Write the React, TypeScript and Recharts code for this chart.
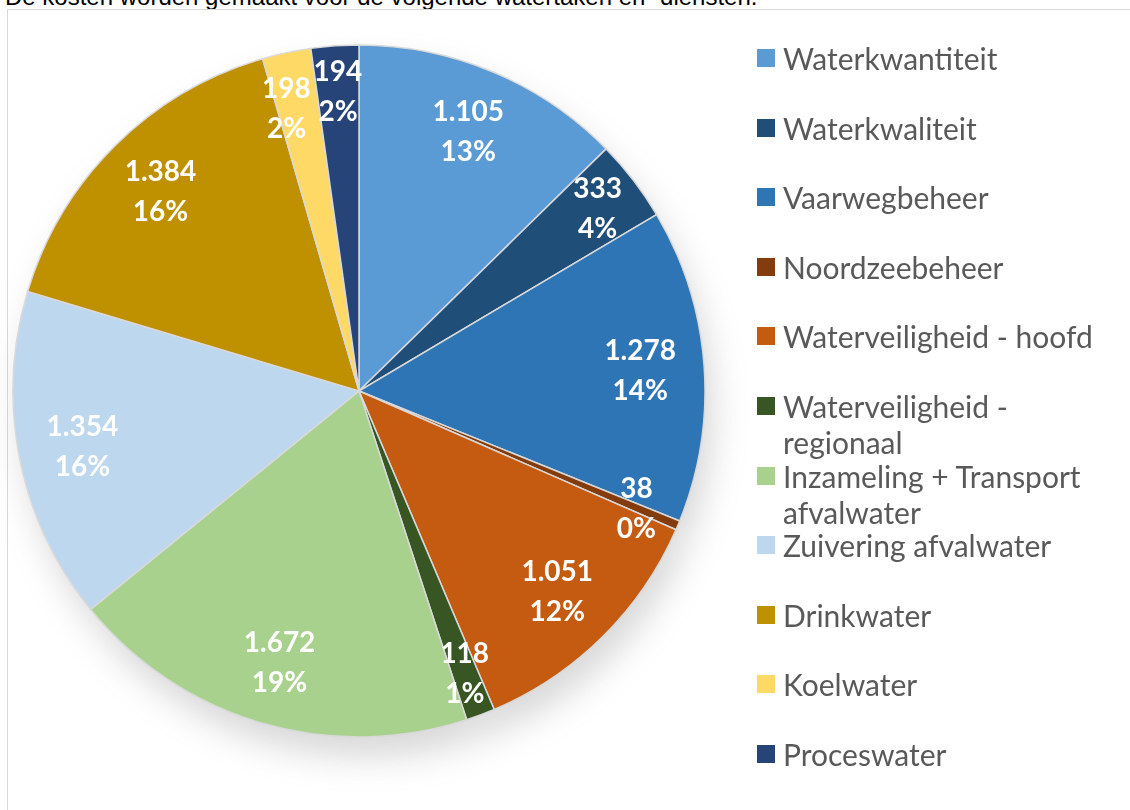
import React from "react";
import { PieChart, Pie, Cell, Legend } from "recharts";

const categories = [
  "Waterkwantiteit",
  "Waterkwaliteit",
  "Vaarwegbeheer",
  "Noordzeebeheer",
  "Waterveiligheid - hoofd",
  "Waterveiligheid - regionaal",
  "Inzameling + Transport afvalwater",
  "Zuivering afvalwater",
  "Drinkwater",
  "Koelwater",
  "Proceswater",
];

const costs = [1105, 333, 1278, 38, 1051, 118, 1672, 1354, 1384, 198, 194];

// percentages as printed on the chart labels
const percentLabels = ["13%", "4%", "14%", "0%", "12%", "1%", "19%", "16%", "16%", "2%", "2%"];

const colors = [
  "#5B9BD5",
  "#1F4E79",
  "#2E75B6",
  "#843C0C",
  "#C55A11",
  "#375623",
  "#A9D18E",
  "#BDD7EE",
  "#BF9000",
  "#FFD966",
  "#264478",
];

const chartData = categories.map((name, i) => ({ name, value: costs[i], pct: percentLabels[i] }));

const RADIAN = Math.PI / 180;
const formatNl = (v: number) => v.toLocaleString("nl-NL");

const renderLabel = (props: any) => {
  const { cx, cy, midAngle, outerRadius, value, percent, payload } = props;
  const small = percent < 0.1;
  const dirX = Math.cos(-midAngle * RADIAN);
  const dirY = Math.sin(-midAngle * RADIAN);
  // small slices a bit further out; left-of-top ones nudged away from neighbours
  const nudge = small && dirX < -0.15;
  const r = outerRadius * (small ? (nudge ? 0.835 : 0.87) : 0.815);
  const x = cx + r * dirX - (nudge ? 12 : 0);
  const y = cy + r * dirY;
  return (
    <text
      x={x}
      y={y}
      fill="#ffffff"
      textAnchor="middle"
      fontFamily="Lato, 'Open Sans', sans-serif"
      fontWeight={700}
      fontSize={28}
    >
      <tspan x={x} dy={-10}>{formatNl(value)}</tspan>
      <tspan x={x} dy={40}>{payload.pct}</tspan>
    </text>
  );
};

const renderLegend = () => (
  <div style={{ position: "absolute", left: 0, top: 0, width: 1130, height: 810 }}>
    {categories.map((name, i) => (
      <div
        key={name}
        style={{
          position: "absolute",
          left: 757,
          top: 40 + i * 69.6,
          display: "flex",
          alignItems: "flex-start",
          fontFamily: "Lato, 'Open Sans', sans-serif",
          fontSize: 30,
          lineHeight: "36px",
          color: "#595959",
        }}
      >
        <span
          style={{
            width: 18,
            height: 18,
            marginTop: 9,
            marginRight: 8,
            background: colors[i],
            flex: "none",
          }}
        />
        <span style={{ width: 320 }}>{name}</span>
      </div>
    ))}
  </div>
);

export default function App() {
  return (
    <div
      style={{
        position: "fixed",
        left: 0,
        top: 0,
        width: 1130,
        height: 810,
        overflow: "hidden",
        background: "#ffffff",
      }}
    >
      <style>{`.pie-shadow { filter: blur(12px); opacity: 0.55; transform: translate(4px, 10px); }`}</style>
      <div
        style={{
          position: "absolute",
          left: 5,
          top: -17,
          fontFamily: "'Liberation Sans', Arial, sans-serif",
          fontSize: 24,
          whiteSpace: "nowrap",
          color: "#000000",
        }}
      >
        De kosten worden gemaakt voor de volgende watertaken en -diensten.
      </div>
      <div
        style={{
          position: "absolute",
          left: 7,
          top: 9,
          width: 1200,
          height: 900,
          border: "1px solid #d9d9d9",
        }}
      />
      <div style={{ position: "absolute", left: 0, top: 0 }}>
        <PieChart width={1130} height={810} margin={{ top: 0, right: 0, bottom: 0, left: 0 }}>
          <Pie
            data={chartData}
            dataKey="value"
            nameKey="name"
            className="pie-shadow"
            cx={359}
            cy={391}
            outerRadius={346}
            startAngle={90}
            endAngle={-270}
            fill="#7f7f7f"
            stroke="none"
            label={false}
            labelLine={false}
            legendType="none"
            isAnimationActive={false}
          />
          <Pie
            data={chartData}
            dataKey="value"
            nameKey="name"
            cx={359}
            cy={391}
            outerRadius={346}
            startAngle={90}
            endAngle={-270}
            stroke="#d9d9d9"
            strokeWidth={1.5}
            label={renderLabel}
            labelLine={false}
            isAnimationActive={false}
          >
            {chartData.map((d, i) => (
              <Cell key={d.name} fill={colors[i]} />
            ))}
          </Pie>
          <Legend content={renderLegend} wrapperStyle={{ left: 0, top: 0, width: 1130, height: 810 }} />
        </PieChart>
      </div>
    </div>
  );
}
